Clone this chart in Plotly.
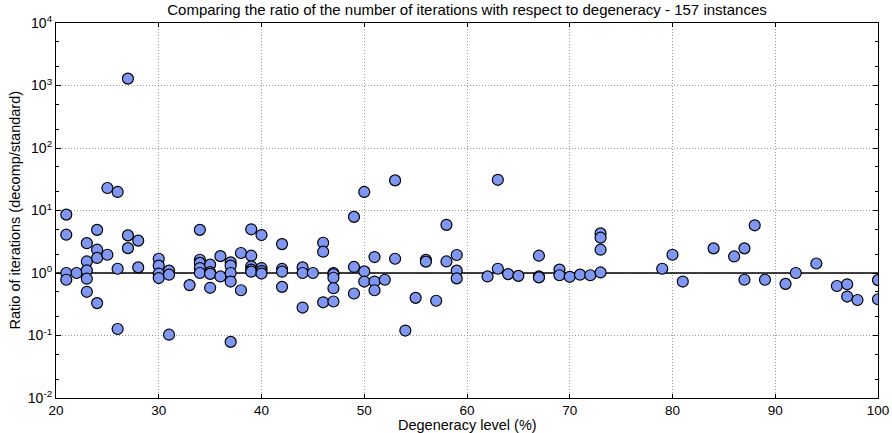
import plotly.graph_objects as go

degeneracy = [
    21, 21, 21, 21, 22,
    23, 23, 23, 23, 23,
    24, 24, 24, 24,
    25, 25,
    26, 26, 26,
    27, 27, 27,
    28, 28,
    30, 30, 30, 30,
    31, 31, 31,
    33,
    34, 34, 34, 34, 34,
    35, 35, 35, 35,
    36, 36,
    37, 37, 37, 37, 37,
    38, 38,
    39, 39, 39, 39, 39,
    40, 40, 40, 40,
    42, 42, 42, 42,
    44, 44, 44,
    45,
    46, 46, 46,
    47, 47, 47, 47, 47,
    49, 49, 49,
    50, 50, 50,
    51, 51, 51,
    52,
    53, 53,
    54, 55,
    56, 56,
    57,
    58, 58,
    59, 59, 59,
    62,
    63, 63,
    64, 65,
    67, 67, 67,
    69, 69,
    70, 71, 72,
    73, 73, 73, 73,
    79, 80, 81, 84, 86,
    87, 87,
    88, 89, 91, 92, 94, 96,
    97, 97,
    98,
    100, 100,
]

ratio = [
    8.6, 4.1, 1.0, 0.78, 1.0,
    3.0, 1.53, 1.1, 0.81, 0.50,
    4.9, 2.36, 1.74, 0.33,
    22.9, 1.96,
    19.8, 1.17, 0.127,
    1290, 4.0, 2.5,
    3.3, 1.23,
    1.69, 1.31, 0.98, 0.83,
    1.09, 0.94, 0.103,
    0.64,
    4.9, 1.63, 1.45, 1.2, 1.0,
    1.36, 1.03, 0.97, 0.58,
    1.86, 0.88,
    1.48, 1.31, 1.0, 0.73, 0.079,
    2.09, 0.53,
    5.0, 1.89, 1.28, 1.13, 1.05,
    4.05, 1.2, 1.07, 0.98,
    2.9, 1.16, 1.05, 0.6,
    1.23, 1.0, 0.28,
    1.0,
    3.05, 2.19, 0.34,
    1.0, 0.96, 0.84, 0.57, 0.35,
    7.9, 1.25, 0.47,
    19.8, 1.06, 0.73,
    1.8, 0.73, 0.53,
    0.78,
    30.3, 1.69,
    0.12, 0.40,
    1.63, 1.52,
    0.36,
    5.9, 1.53,
    1.94, 1.09, 0.82,
    0.88,
    31.0, 1.17,
    0.96, 0.90,
    1.89, 0.88, 0.85,
    1.13, 0.92,
    0.87, 0.94, 0.92,
    4.3, 3.67, 2.36, 1.02,
    1.17, 1.96, 0.73, 2.48, 1.84,
    2.48, 0.78,
    5.8, 0.78, 0.67, 1.0, 1.42, 0.62,
    0.66, 0.42,
    0.37,
    0.77, 0.38,
]

ref_x = [20, 100]
ref_y = [1, 1]

y_tickvals = [0.01, 0.1, 1, 10, 100, 1000, 10000]
y_ticktext = ["10<sup>-2</sup>", "10<sup>-1</sup>", "10<sup>0</sup>", "10<sup>1</sup>",
              "10<sup>2</sup>", "10<sup>3</sup>", "10<sup>4</sup>"]
x_tickvals = [20, 30, 40, 50, 60, 70, 80, 90, 100]

title_text = "Comparing the ratio of the number of iterations with respect to degeneracy - 157 instances"
x_title = "Degeneracy level (%)"
y_title = "Ratio of iterations (decomp/standard)"

fig = go.Figure()
fig.add_trace(go.Scatter(
    x=ref_x, y=ref_y, mode="lines",
    line=dict(color="black", width=1.5), hoverinfo="skip", showlegend=False,
))
fig.add_trace(go.Scatter(
    x=degeneracy, y=ratio, mode="markers",
    marker=dict(size=11, color="#7f96f2", line=dict(color="black", width=1.2)),
    showlegend=False,
))

font = "Liberation Sans, Arial, sans-serif"
fig.update_layout(
    width=892, height=433,
    margin=dict(l=56, r=14, t=23, b=35, autoexpand=False),
    paper_bgcolor="white", plot_bgcolor="white",
    font=dict(family=font, size=13, color="black"),
    title=dict(text=title_text, x=0.5, xref="paper", xanchor="center",
               y=1 - 10 / 433, yref="container", yanchor="middle",
               font=dict(size=15, color="black")),
    annotations=[
        dict(text=x_title, xref="paper", yref="paper", x=0.5, y=0,
             xanchor="center", yanchor="middle", yshift=-27, showarrow=False,
             font=dict(size=14.5)),
        dict(text=y_title, xref="paper", yref="paper", x=0, y=0.5,
             xanchor="center", yanchor="middle", xshift=-42, textangle=-90,
             showarrow=False, font=dict(size=14.5)),
    ],
)

fig.update_xaxes(
    range=[20, 100], tickvals=x_tickvals, automargin=False,
    showgrid=True, gridcolor="#9a9a9a", griddash="1px,2px", gridwidth=1,
    showline=True, linecolor="black", linewidth=1.2, mirror="allticks",
    ticks="inside", ticklen=4, tickcolor="black",
    zeroline=False,
    tickfont=dict(size=13.5),
)
fig.update_yaxes(
    type="log", range=[-2, 4], tickvals=y_tickvals, ticktext=y_ticktext,
    automargin=False,
    showgrid=True, gridcolor="#9a9a9a", griddash="1px,2px", gridwidth=1,
    showline=True, linecolor="black", linewidth=1.2, mirror="allticks",
    ticks="inside", ticklen=5, tickcolor="black",
    minor=dict(ticks="inside", ticklen=2.5, tickcolor="black", showgrid=False),
    zeroline=False,
    tickfont=dict(size=14),
)

fig.write_html("out.html", config={"displayModeBar": False},
               post_script="document.body.style.margin='0';")
